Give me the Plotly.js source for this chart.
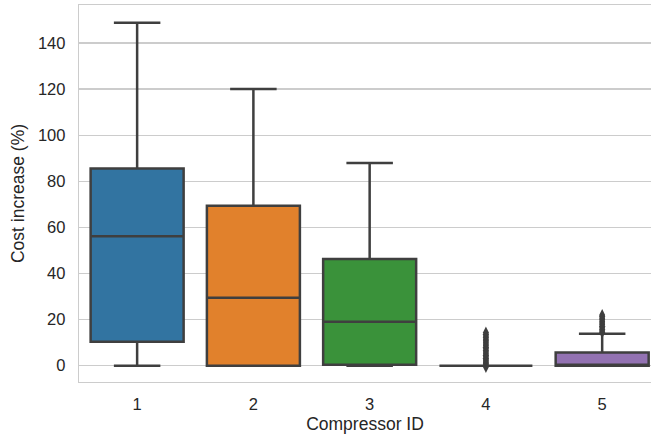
<!DOCTYPE html>
<html>
<head>
<meta charset="utf-8">
<script src="https://cdn.plot.ly/plotly-3.0.1.min.js"></script>
<style>html,body{margin:0;padding:0;background:#fff;}#chart{width:651px;height:436px;}</style>
</head>
<body>
<div id="chart"></div>
<script>
// Categories and box statistics
const categories = ['1', '2', '3', '4', '5'];
const lowerWhisker = [0, 0, 0, 0, 0];
const q1Values = [10.4, 0, 0.4, 0, 0];
const medianValues = [56.2, 29.5, 19.0, 0, 0];
const q3Values = [85.6, 69.4, 46.3, 0, 5.7];
const upperWhisker = [148.8, 120.1, 87.9, 0, 13.8];
const outliers4 = [-0.6, 0.3, 0.8, 1.4, 2.0, 2.6, 3.2, 3.9, 4.5, 5.2, 5.9, 6.6, 7.3, 8.0, 8.7, 9.4, 10.1, 10.8, 11.5, 12.2, 12.9, 13.6, 14.4];
const outliers5 = [14.4, 15.0, 15.7, 16.4, 17.1, 17.8, 18.5, 19.2, 19.9, 20.6, 21.3, 22.0];
const boxColors = ['#3274a1', '#e1812c', '#3a923a', '#c03d3e', '#9372b2'];

const lineColor = '#3f3f3f';
const traces = categories.map((c, i) => ({
  type: 'box',
  x: [i],
  q1: [q1Values[i]],
  median: [medianValues[i]],
  q3: [q3Values[i]],
  lowerfence: [lowerWhisker[i]],
  upperfence: [upperWhisker[i]],
  width: 0.8,
  whiskerwidth: 0.5,
  fillcolor: boxColors[i],
  line: {color: lineColor, width: 2.5},
  boxpoints: false,
  hoverinfo: 'skip',
  showlegend: false
}));

const outlierSets = [[3, outliers4], [4, outliers5]];
outlierSets.forEach(([idx, vals]) => {
  traces.push({
    type: 'scatter',
    mode: 'markers',
    x: vals.map(() => idx),
    y: vals,
    marker: {symbol: 'diamond-tall', size: 8.5, color: lineColor, line: {width: 0}},
    hoverinfo: 'skip',
    showlegend: false
  });
});

const layout = {
  width: 651,
  height: 436,
  margin: {l: 79, r: 0, t: 5, b: 54},
  paper_bgcolor: '#ffffff',
  plot_bgcolor: '#ffffff',
  font: {family: 'Liberation Sans, Arial, sans-serif', color: '#262626', size: 16.5},
  showlegend: false,
  xaxis: {
    type: 'linear',
    range: [-0.5, 4.42],
    tickvals: categories.map((c, i) => i),
    ticktext: categories,
    showgrid: false,
    zeroline: false,
    showline: true,
    linecolor: '#cccccc',
    linewidth: 1.25,
    mirror: true,
    ticks: '',
    ticklabelstandoff: 7,
    tickfont: {size: 16.5, color: '#262626'},
    title: {text: 'Compressor ID', font: {size: 17.5, color: '#262626'}, standoff: 5}
  },
  yaxis: {
    range: [-7.1, 156.5],
    tickvals: [0, 20, 40, 60, 80, 100, 120, 140],
    showgrid: true,
    gridcolor: '#cccccc',
    gridwidth: 1.25,
    zeroline: false,
    showline: true,
    linecolor: '#cccccc',
    linewidth: 1.25,
    ticks: '',
    ticklabelstandoff: 9,
    tickfont: {size: 16.5, color: '#262626'},
    title: {text: 'Cost increase (%)', font: {size: 17.5, color: '#262626'}, standoff: 8}
  }
};

Plotly.newPlot('chart', traces, layout, {displayModeBar: false, staticPlot: true});
</script>
</body>
</html>
